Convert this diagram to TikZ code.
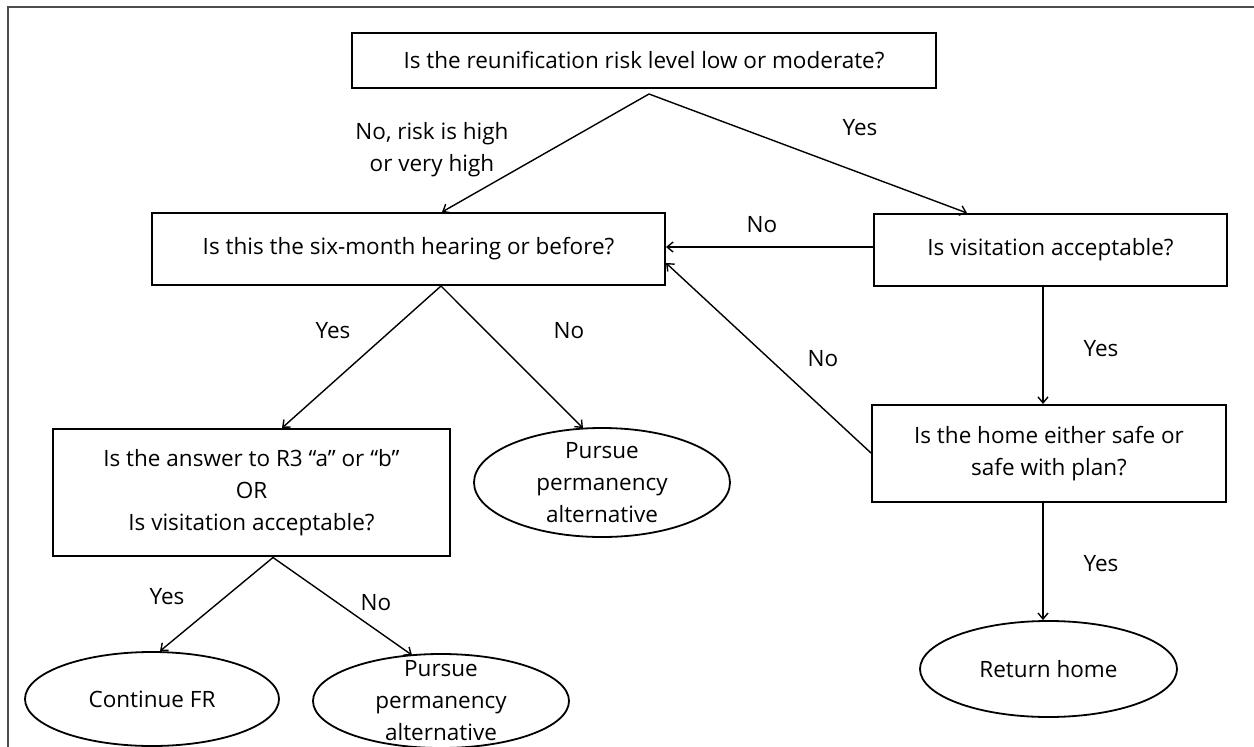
\documentclass[tikz,border=0pt]{standalone}
\usepackage{fontspec}
\setmainfont{Open Sans}
\usetikzlibrary{shapes.geometric,arrows.meta}
\tikzset{
  every node/.style={font=\fontsize{22.5}{32}\selectfont},
  qbox/.style={draw, line width=2pt, rectangle, inner sep=0pt, align=center},
  term/.style={draw, line width=1.8pt, ellipse, inner sep=0pt},
  arr/.style={line width=1.4pt, -{Straight Barb[length=6pt,width=10pt]}},
  lbl/.style={inner sep=0pt, align=center}
}
\begin{document}
\begin{tikzpicture}[x=1pt,y=-1pt]
\clip (0,0) rectangle (1254,747);
\fill[white] (0,0) rectangle (1254,747);
% outer frame (open at right and bottom, as cropped)
\draw[line width=2pt, black!70] (8,780) -- (8,7) -- (1280,7);

% decision boxes
\node[qbox, minimum width=584pt, minimum height=55pt] (top) at (644,60.5) {Is the reunification risk level low or moderate?};
\node[qbox, minimum width=513pt, minimum height=72pt] (six) at (408.5,249) {Is this the six-month hearing or before?};
\node[qbox, minimum width=353pt, minimum height=72pt] (vis) at (1050.5,250) {Is visitation acceptable?};
\node[qbox, minimum width=354pt, minimum height=97pt] (home) at (1049,453.5) {Is the home either safe or\\safe with plan?};
\node[qbox, minimum width=397pt, minimum height=127pt] (r3) at (251.5,492.5) {Is the answer to R3 “a” or “b”\\OR\\Is visitation acceptable?};

% terminal ellipses
\node[term, minimum width=256pt, minimum height=109pt, label={[lbl]center:Pursue\\permanency\\alternative}] (pmid) at (602,482.5) {};
\node[term, minimum width=254pt, minimum height=94pt, label={[lbl]center:Continue FR}] (cfr) at (152,699) {};
\node[term, minimum width=256pt, minimum height=94pt, label={[lbl]center:Pursue\\permanency\\alternative}] (pbot) at (441,701) {};
\node[term, minimum width=257pt, minimum height=96pt, label={[lbl]center:Return home}] (ret) at (1048.5,669) {};

% branch points
\coordinate (b1) at (649,94);
\coordinate (b2) at (441,286);
\coordinate (b3) at (273,557.5);

% connectors
\draw[arr] (b1) -- ([xshift=33.5pt]six.north);
\draw[arr] (b1) -- ([xshift=-83.5pt]vis.north);
\draw[arr] ([yshift=3pt]vis.west) -- ([yshift=2pt]six.east);
\draw[arr] ([yshift=0.5pt]home.west) -- ([yshift=-14pt]six.east);
\draw[arr] ([xshift=-7.5pt]vis.south) -- ([xshift=-6pt]home.north);
\draw[arr] ([xshift=-6pt]home.south) -- ([xshift=-5.5pt]ret.north);
\draw[arr] (b2) -- ([xshift=30.5pt]r3.north);
\draw[arr] (b2) -- ([xshift=-19pt,yshift=-1pt]pmid.north);
\draw[arr] (b3) -- ([xshift=8pt]cfr.north);
\draw[arr] (b3) -- ([xshift=-29pt,yshift=-2pt]pbot.north);

% labels
\node[lbl] (l1) at (432,150) {No, risk is high\\or very high};
\node[lbl] (l2) at (860,128) {Yes};
\node[lbl] (l3) at (762,225) {No};
\node[lbl] (l4) at (823,359) {No};
\node[lbl] (l5) at (1101,349) {Yes};
\node[lbl] (l6) at (1101,564) {Yes};
\node[lbl] (l7) at (333,331) {Yes};
\node[lbl] (l8) at (569,331) {No};
\node[lbl] (l9) at (167,597) {Yes};
\node[lbl] (l10) at (376,603) {No};
\end{tikzpicture}
\end{document}
